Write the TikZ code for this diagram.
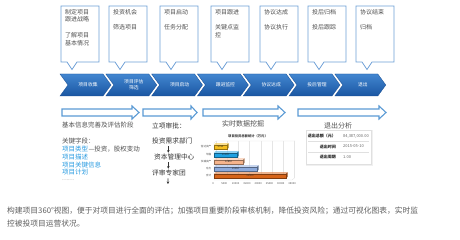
\documentclass[tikz,border=0pt]{standalone}
\usepackage{fontspec}
\setmainfont{Noto Sans CJK SC}
\usetikzlibrary{arrows.meta}
\definecolor{chevtop}{RGB}{66,134,208}
\definecolor{chevbot}{RGB}{26,86,162}
\definecolor{calloutline}{RGB}{110,160,215}
\definecolor{arrline}{RGB}{91,155,213}
\definecolor{txtgray}{RGB}{80,80,80}
\definecolor{keyblue}{RGB}{40,155,225}
\definecolor{paragray}{RGB}{95,95,95}
\definecolor{baryellow}{RGB}{245,190,30}
\definecolor{barblue}{RGB}{30,160,225}
\definecolor{barpeach}{RGB}{245,180,140}
\definecolor{barsteel}{RGB}{140,170,220}
\definecolor{barorange}{RGB}{215,100,25}
\begin{document}
\begin{tikzpicture}[x=1pt,y=-1pt,
  callout/.style={draw=calloutline,line width=0.8pt,fill=white},
  callouttext/.style={anchor=north west,inner sep=0pt,align=left,text=txtgray,font=\fontsize{6}{7.7}\selectfont},
  chevlabel/.style={text=white,align=center,inner sep=0pt,font=\fontsize{4.8}{5.8}\selectfont},
  hollow/.style={draw=arrline,line width=1.1pt,fill=white,line join=miter},
  bodytext/.style={anchor=west,inner sep=0pt,text=txtgray,font=\fontsize{6.5}{7.7}\selectfont},
  keytext/.style={anchor=west,inner sep=0pt,text=keyblue,font=\fontsize{6.5}{7.7}\selectfont},
  flowtext/.style={anchor=west,inner sep=0pt,text=black!80,font=\fontsize{6.7}{8}\selectfont},
  headtext/.style={inner sep=0pt,text=txtgray,font=\fontsize{7}{8}\selectfont},
  tiny/.style={inner sep=0pt,text=black!70,font=\fontsize{2.6}{3}\selectfont},
  tablabel/.style={anchor=east,inner sep=0pt,text=black!85,font=\bfseries\fontsize{4}{5}\selectfont},
  tabvalue/.style={anchor=west,inner sep=0pt,text=black!60,font=\fontsize{4}{5}\selectfont},
  downarrow/.style={draw=black!80,line width=0.6pt,-{Stealth[length=2.5pt,width=2.5pt]}},
  para/.style={anchor=west,inner sep=0pt,text=paragray,font=\fontsize{7.75}{9}\selectfont}
]
\useasboundingbox (0,0) rectangle (460,240);
\fill[white] (0,0) rectangle (460,240);

% ---------- callout boxes ----------
\foreach \l/\name/\txt in {
  61/cb1/{制定项目\\跟进战略\\[7.7pt]了解项目\\基本情况},
  109/cb2/{投资机会\\[7.7pt]筛选项目},
  160/cb3/{项目启动\\[7.7pt]任务分配},
  211/cb4/{项目跟进\\[7.7pt]关键点监\\控},
  260/cb5/{协议达成\\[7.7pt]协议执行},
  308/cb6/{投后归档\\[7.7pt]投后跟踪},
  356/cb7/{协议结束\\[7.7pt]归档}}{
  \draw[callout] (\l,6) -- (\l+38,6) -- (\l+38,62) -- (\l+16,62) -- (\l+11,69.5) -- (\l+6,62) -- (\l,62) -- cycle;
  \node[callouttext] (\name) at (\l+4,9) {\txt};
}

% ---------- chevrons ----------
\foreach \i/\name/\txt in {0/ch1/{项目收集},1/ch2/{项目评估\\筛选},2/ch3/{项目启动},3/ch4/{跟进监控},4/ch5/{协议达成},5/ch6/{投后管理},6/ch7/{退出}}{
  \pgfmathsetmacro{\lx}{60+45.8*\i}
  \shade[top color=chevtop,bottom color=chevbot,draw=chevbot!90!black,line width=0.3pt]
    (\lx,74) -- (\lx+43,74) -- (\lx+51,85) -- (\lx+43,96) -- (\lx,96) -- (\lx+8,85) -- cycle;
  \node[chevlabel] (\name) at (\lx+28,85) {\txt};
}

% ---------- hollow arrows ----------
\foreach \a/\b/\c in {62/132/139,143/191/197,203/278/285,298/379/386}{
  \draw[hollow] (\a,109) -- (\b,109) -- (\b,106) -- (\c,112.5) -- (\b,119) -- (\b,116) -- (\a,116) -- cycle;
}

% ---------- column 1 ----------
\node[bodytext] (c1h) at (62,125) {基本信息完善及评估阶段};
\node[bodytext] (c1k) at (62,141) {关键字段：};
\node[keytext] (c1a) at (62,149) {项目类型};
\node[bodytext] (c1a2) at (c1a.east) {---投资，股权变动};
\node[keytext] (c1b) at (62,157) {项目描述};
\node[keytext] (c1c) at (62,165) {项目关键信息};
\node[keytext] (c1d) at (62,172.5) {项目计划};
\node[bodytext,text=black!55,font=\fontsize{5.5}{6}\selectfont] (c1e) at (62,180.5) {……};

% ---------- column 2 ----------
\node[flowtext] (c2h) at (152,126) {立项审批：};
\node[flowtext] (f1) at (152,141) {投资需求部门};
\node[flowtext] (f2) at (154,157) {资本管理中心};
\node[flowtext] (f3) at (152,173) {评审专家团};
\coordinate (fend) at (168,184);
\draw[downarrow] ([xshift=-4pt,yshift=-2pt]f1.south) -- ([xshift=-4pt,yshift=1pt]f2.north -| f1.south);
\draw[downarrow] ([xshift=-6pt,yshift=-2pt]f2.south) -- ([xshift=-6pt,yshift=1pt]f3.north -| f2.south);
\draw[downarrow] ([xshift=-1pt,yshift=-2pt]f3.south) -- (fend);

% ---------- column 3 : chart ----------
\node[headtext] (c3h) at (243,124) {实时数据挖掘};
\node[inner sep=0pt,text=black!75,font=\bfseries\fontsize{3.3}{4}\selectfont] (ctitle) at (248,136) {项目投资总额统计（万元）};
\draw[black!12,line width=0.3pt] (214,143) -- (216,141) -- (295,141);
\draw[black!12,line width=0.3pt] (214,143) -- (214,180) -- (292,180) -- (294.5,178) -- (294.5,141);
\foreach \k/\v in {0/0,1/5000,2/10000,3/15000,4/20000,5/25000,6/30000,7/35000}{
  \draw[black!10,line width=0.25pt] (216+11.2*\k,141) -- (216+11.2*\k,178);
  \node[tiny] (ax\k) at (213+11.3*\k,184) {\v};
}
\foreach \yc/\xe/\col/\cat/\val/\nm in {
  147/227/baryellow/信达资产/5760/b1,
  155/237/barblue/华融/10190/b2,
  162/243/barpeach/长城资产/12850/b3,
  169/257/barsteel/东方/19050/b4,
  176/286/barorange/合计/31900/b5}{
  \fill[\col!75!white] (214,\yc-2.3) -- (215.5,\yc-3.6) -- (\xe+1.5,\yc-3.6) -- (\xe,\yc-2.3) -- cycle;
  \fill[\col!70!black] (\xe,\yc-2.3) -- (\xe+1.5,\yc-3.6) -- (\xe+1.5,\yc+1) -- (\xe,\yc+2.3) -- cycle;
  \fill[\col] (214,\yc-2.3) rectangle (\xe,\yc+2.3);
  \draw[\col!60!black,line width=0.2pt] (214,\yc-2.3) rectangle (\xe,\yc+2.3);
  \node[tiny,anchor=east] (\nm l) at (211.5,\yc) {\cat};
  \node[tiny,text=black!80] (\nm v) at ({(214+\xe)/2},\yc) {\val};
}

% ---------- column 4 : exit analysis ----------
\node[headtext] (c4h) at (338,126) {退出分析};
\draw[black!6,line width=1.2pt] (307,131) rectangle (372,165);
\draw[black!12,line width=0.3pt,fill=white] (306,130) rectangle (371,164);
\draw[black!12,line width=0.3pt] (308,141.5) -- (369,141.5);
\draw[black!12,line width=0.3pt] (308,152) -- (369,152);
\node[tablabel] (t1) at (336,136) {退出总额（元）};
\node[tabvalue] (v1) at (343,136) {84,387,000.00};
\node[tablabel] (t2) at (336,146.5) {退出时间};
\node[tabvalue] (v2) at (343,146.5) {2015-05-10};
\node[tablabel] (t3) at (336,157) {退出周期};
\node[tabvalue] (v3) at (343,157) {1.00};

% ---------- bottom paragraph ----------
\node[para] (p1) at (7,211) {构建项目360°视图，便于对项目进行全面的评估；加强项目重要阶段审核机制，降低投资风险；通过可视化图表，实时监};
\node[para] (p2) at (7,224) {控被投项目运营状况。};
\end{tikzpicture}
\end{document}
